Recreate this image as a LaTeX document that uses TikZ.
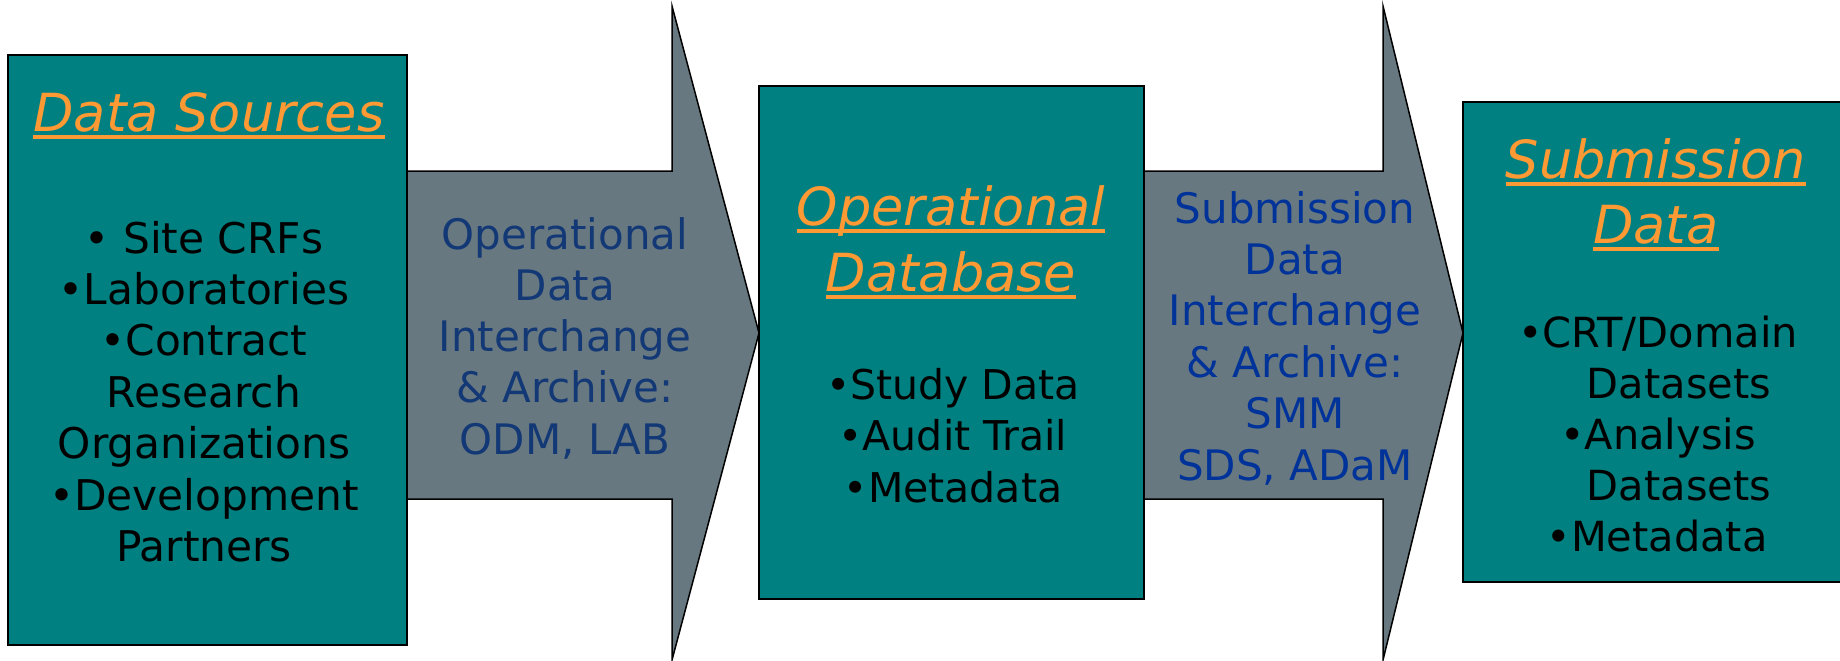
\documentclass[tikz,border=0pt]{standalone}
\usepackage{fontspec}
\setmainfont{DejaVu Sans}
\definecolor{tealbox}{RGB}{0,128,128}
\definecolor{arrowgray}{RGB}{104,120,128}
\definecolor{titleorange}{RGB}{255,153,51}
\definecolor{navytext}{RGB}{18,56,118}
\definecolor{bluetext}{RGB}{0,51,153}
\tikzset{
  panel/.style={fill=tealbox, draw=black, line width=2pt},
  flow/.style={fill=arrowgray, draw=black, line width=1.5pt, line join=miter},
  titleline/.style={inner sep=0pt, anchor=base, text=titleorange,
    font=\fontsize{52.5}{60}\selectfont\itshape},
  ulinestyle/.style={draw=titleorange, line width=3.2pt},
  bodyA/.style={inner sep=0pt, anchor=base, text=black, font=\fontsize{42.3}{50}\selectfont},
  bodyB/.style={inner sep=0pt, anchor=base, text=black, font=\fontsize{41}{50}\selectfont},
  bodyC/.style={inner sep=0pt, anchor=base, text=black, font=\fontsize{41.5}{50}\selectfont},
  flowtextA/.style={inner sep=0pt, anchor=base, text=navytext, font=\fontsize{42}{50}\selectfont},
  flowtextB/.style={inner sep=0pt, anchor=base, text=bluetext, font=\fontsize{42}{50}\selectfont},
}
\newcommand\titleul[1]{\path[ulinestyle] ([yshift=-6pt]#1.base west) -- ([yshift=-6pt]#1.base east);}
\begin{document}
\begin{tikzpicture}[x=1pt,y=-1pt]
\useasboundingbox (0,0) rectangle (1840,661);

% flow arrows
\path[flow] (407,171) -- (672,171) -- (672,6) -- (759,333) -- (672,660)
  -- (672,499) -- (407,499) -- cycle;
\path[flow] (1144,171) -- (1383,171) -- (1383,6) -- (1463,333) -- (1383,660)
  -- (1383,499) -- (1144,499) -- cycle;

% panels
\path[panel] (8,55) rectangle (407,645);
\path[panel] (759,86) rectangle (1144,599);
\path[panel] (1463,102) rectangle (1846,582);

% Data Sources panel
\node[titleline] (t1) at (209,131) {Data Sources};
\titleul{t1}
\foreach \t [count=\i] in {{•\ Site CRFs}, •Laboratories, •Contract, Research,
    Organizations, •Development, Partners}
  \node[bodyA] (s\i) at (204,{253+51.4*(\i-1)}) {\t};

% first arrow label
\foreach \t [count=\i] in {Operational, Data, Interchange, {\& Archive:}, {ODM, LAB}}
  \node[flowtextA] (a\i) at (565,{249+51.3*(\i-1)}) {\t};

% Operational Database panel
\node[titleline] (t2a) at (951,225) {Operational};
\node[titleline] (t2b) at (951,291) {Database};
\titleul{t2a}
\titleul{t2b}
\foreach \t [count=\i] in {•Study Data, •Audit Trail, •Metadata}
  \node[bodyB] (o\i) at (953,{399+51.5*(\i-1)}) {\t};

% second arrow label
\foreach \t [count=\i] in {Submission, Data, Interchange, {\& Archive:}, SMM, {SDS, ADaM}}
  \node[flowtextB] (b\i) at (1295,{223+51.4*(\i-1)}) {\t};

% Submission Data panel
\node[titleline] (t3a) at (1656,178) {Submission};
\node[titleline] (t3b) at (1656,243) {Data};
\titleul{t3a}
\titleul{t3b}
\node[bodyC] (d1) at (1658,347) {•CRT/Domain};
\node[bodyC] (d2) at (1679,398) {Datasets};
\node[bodyC] (d3) at (1658,449) {•Analysis};
\node[bodyC] (d4) at (1679,500) {Datasets};
\node[bodyC] (d5) at (1657,551) {•Metadata};
\end{tikzpicture}
\end{document}
